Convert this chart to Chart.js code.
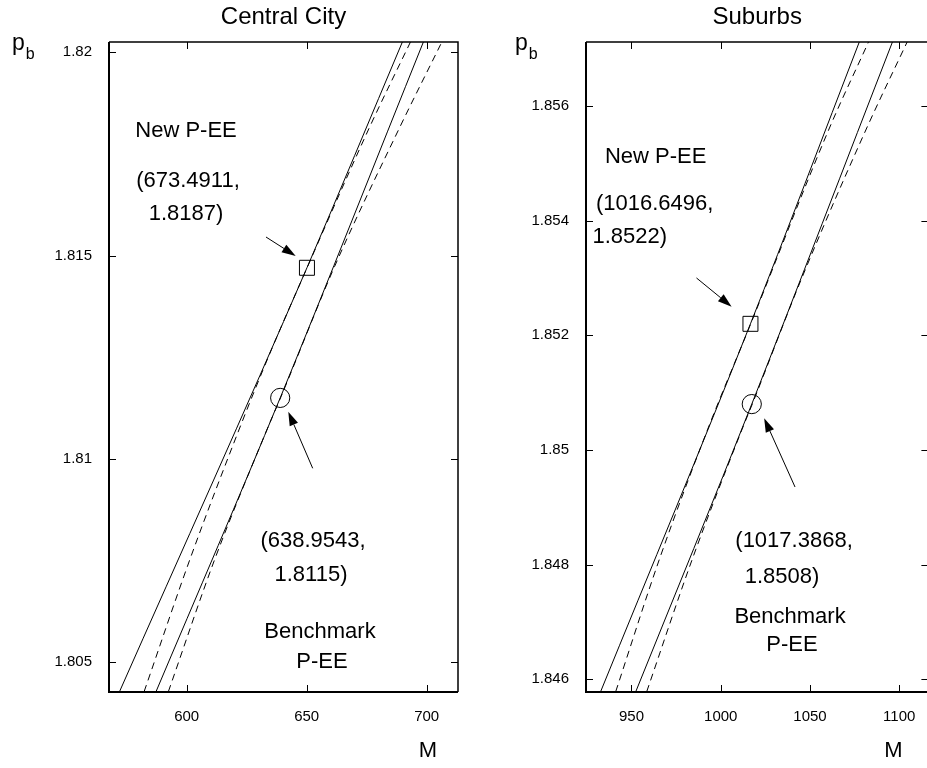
<!DOCTYPE html>
<html><head><meta charset="utf-8">
<script src="https://cdn.jsdelivr.net/npm/chart.js@4.4.0/dist/chart.umd.min.js"></script>
<style>
html,body{margin:0;padding:0;background:#fff;overflow:hidden;width:927px;height:768px;position:relative;}
canvas{position:absolute;top:0;}
#c1{left:0px} #c2{left:470px}
</style></head><body>
<canvas id="c1" width="470" height="768"></canvas>
<canvas id="c2" width="470" height="768"></canvas>
<script>
// ---------- Central City data ----------
const cityTickX = [600, 650, 700];
const cityTickY = [1.805, 1.81, 1.815, 1.82];
const cityTickYLabels = ['1.805', '1.81', '1.815', '1.82'];
const cityNewSolidM = [572.0, 650.1, 689.92];
const cityNewSolidP = [1.804275, 1.8147, 1.820261];
const cityNewDashedM = [582.25, 601.25, 621.75, 634.67, 650.35, 676.04, 693.29];
const cityNewDashedP = [1.804275, 1.807514, 1.810711, 1.812597, 1.814727, 1.818138, 1.820261];
const cityBenchSolidM = [587.21, 638.9543, 698.67];
const cityBenchSolidP = [1.804275, 1.8115, 1.820261];
const cityBenchDashedM = [592.35, 611.58, 633.38, 639.3, 661.58, 688.63, 706.38];
const cityBenchDashedP = [1.804275, 1.807514, 1.810711, 1.81153, 1.814727, 1.818138, 1.820261];
const cityNewEE = [650.1, 1.8147];
const cityBenchEE = [638.9543, 1.8115];

// ---------- Suburbs data ----------
const subTickX = [950, 1000, 1050, 1100];
const subTickY = [1.846, 1.848, 1.85, 1.852, 1.854, 1.856];
const subTickYLabels = ['1.846', '1.848', '1.85', '1.852', '1.854', '1.856'];
const subNewSolidM = [932.71, 1016.6496, 1077.70];
const subNewSolidP = [1.845784, 1.8522, 1.857122];
const subNewDashedM = [941.16, 965.50, 992.55, 1016.93, 1060.91, 1082.88];
const subNewDashedP = [1.845784, 1.848081, 1.850349, 1.85221, 1.855616, 1.857122];
const subBenchSolidM = [952.40, 1017.3868, 1096.27];
const subBenchSolidP = [1.845784, 1.8508, 1.857122];
const subBenchDashedM = [958.53, 983.90, 1011.8, 1017.7, 1044.97, 1081.80, 1104.52];
const subBenchDashedP = [1.845784, 1.848081, 1.850349, 1.850802, 1.852965, 1.855616, 1.857122];
const subNewEE = [1016.6496, 1.8522];
const subBenchEE = [1017.3868, 1.8508];

const FONT = '"Liberation Sans", Arial, Helvetica, sans-serif';

function pts(xs, ys) { return xs.map((x, i) => ({x: x, y: ys[i]})); }

function lineDs(xs, ys, dashed) {
  return {data: pts(xs, ys), showLine: true, borderColor: '#000', borderWidth: 1,
    borderDash: dashed ? [7, 5] : [], pointRadius: 0, cubicInterpolationMode: 'monotone', fill: false};
}

function decorPlugin(p) {
  return {
    id: 'decor',
    afterDraw(chart) {
      const ctx = chart.ctx, ca = chart.chartArea, xs = chart.scales.x, ys = chart.scales.y;
      ctx.save();
      ctx.strokeStyle = '#000'; ctx.fillStyle = '#000';
      ctx.lineWidth = 1;
      ctx.beginPath();
      p.tickX.forEach(v => {
        const px = Math.round(xs.getPixelForValue(v)) + 0.5;
        ctx.moveTo(px, ca.bottom); ctx.lineTo(px, ca.bottom - 7);
        ctx.moveTo(px, ca.top); ctx.lineTo(px, ca.top + 7);
      });
      p.tickY.forEach(v => {
        const py = Math.round(ys.getPixelForValue(v)) + 0.5;
        ctx.moveTo(ca.left, py); ctx.lineTo(ca.left + 7, py);
        ctx.moveTo(ca.right, py); ctx.lineTo(ca.right - 7, py);
      });
      ctx.stroke();
      ctx.lineWidth = 2;
      ctx.beginPath();
      ctx.moveTo(ca.left, ca.top); ctx.lineTo(ca.left, ca.bottom); ctx.lineTo(ca.right, ca.bottom);
      ctx.stroke();
      ctx.lineWidth = 1.5;
      ctx.beginPath();
      ctx.moveTo(ca.left, ca.top); ctx.lineTo(ca.right, ca.top); ctx.lineTo(ca.right, ca.bottom);
      ctx.stroke();
      ctx.lineWidth = 1;
      p.arrows.forEach(a => {
        const x1 = xs.getPixelForValue(a.from[0]), y1 = ys.getPixelForValue(a.from[1]);
        const x2 = xs.getPixelForValue(a.to[0]), y2 = ys.getPixelForValue(a.to[1]);
        const ang = Math.atan2(y2 - y1, x2 - x1), L = 14, W = 4.5;
        const bx = x2 - L * Math.cos(ang), by = y2 - L * Math.sin(ang);
        ctx.beginPath(); ctx.moveTo(x1, y1); ctx.lineTo(bx, by); ctx.stroke();
        ctx.beginPath();
        ctx.moveTo(x2, y2);
        ctx.lineTo(bx + W * Math.sin(ang), by - W * Math.cos(ang));
        ctx.lineTo(bx - W * Math.sin(ang), by + W * Math.cos(ang));
        ctx.closePath(); ctx.fill();
      });
      ctx.textAlign = 'center'; ctx.textBaseline = 'middle';
      ctx.font = '22px ' + FONT;
      p.notes.forEach(n => {
        ctx.fillText(n.text, xs.getPixelForValue(n.x), ys.getPixelForValue(n.y));
      });
      ctx.font = '24px ' + FONT;
      ctx.fillText(p.title, (ca.left + ca.right) / 2, 17);
      ctx.font = '22px ' + FONT;
      ctx.fillText('M', ca.right + p.mDx, 751);
      ctx.textAlign = 'left';
      ctx.font = '23px ' + FONT;
      ctx.fillText('p', p.pX, 44);
      const pw = ctx.measureText('p').width;
      ctx.font = '16px ' + FONT;
      ctx.fillText('b', p.pX + pw + 1, 55);
      ctx.restore();
    }
  };
}

function makeChart(id, p) {
  const ds = [
    lineDs(p.s1m, p.s1p, false), lineDs(p.d1m, p.d1p, true),
    lineDs(p.s2m, p.s2p, false), lineDs(p.d2m, p.d2p, true),
    {data: [{x: p.newEE[0], y: p.newEE[1]}], pointStyle: 'rect', pointRadius: 10.6,
      pointBorderColor: '#000', pointBackgroundColor: 'rgba(0,0,0,0)', pointBorderWidth: 1, showLine: false},
    {data: [{x: p.benchEE[0], y: p.benchEE[1]}], pointStyle: 'circle', pointRadius: 9.6,
      pointBorderColor: '#000', pointBackgroundColor: 'rgba(0,0,0,0)', pointBorderWidth: 1, showLine: false}
  ];
  return new Chart(document.getElementById(id), {
    type: 'scatter',
    data: {datasets: ds},
    options: {
      responsive: false, animation: false, events: [],
      layout: {padding: {left: 0, right: p.padR, top: 42, bottom: 36}},
      plugins: {legend: {display: false}, tooltip: {enabled: false}, title: {display: false}},
      scales: {
        x: {type: 'linear', min: p.xmin, max: p.xmax,
          afterBuildTicks: s => { s.ticks = p.tickX.map(v => ({value: v})); },
          afterFit: s => { s.height = 40; },
          ticks: {callback: v => String(v), color: '#000', font: {family: FONT, size: 15}, padding: 8, maxRotation: 0, autoSkip: false},
          grid: {display: false}, border: {display: false}},
        y: {type: 'linear', min: p.ymin, max: p.ymax,
          afterBuildTicks: s => { s.ticks = p.tickY.map(v => ({value: v})); },
          afterFit: s => { s.width = p.yW; },
          ticks: {callback: (v, i) => p.tickYLabels[i], color: '#000', font: {family: FONT, size: 15}, padding: 9, autoSkip: false},
          grid: {display: false}, border: {display: false}}
      }
    },
    plugins: [decorPlugin(p)]
  });
}

makeChart('c1', {
  title: 'Central City', xmin: 567.625, xmax: 713.04, ymin: 1.804267, ymax: 1.820253,
  padR: 12, yW: 109, mDx: -30, pX: 12,
  tickX: cityTickX, tickY: cityTickY, tickYLabels: cityTickYLabels,
  s1m: cityNewSolidM, s1p: cityNewSolidP, d1m: cityNewDashedM, d1p: cityNewDashedP,
  s2m: cityBenchSolidM, s2p: cityBenchSolidP, d2m: cityBenchDashedM, d2p: cityBenchDashedP,
  newEE: cityNewEE, benchEE: cityBenchEE,
  arrows: [{from: [633.04, 1.815457], to: [645.42, 1.81499]}, {from: [652.5, 1.809769], to: [642.33, 1.811161]}],
  notes: [
    {text: 'New P-EE', x: 599.71, y: 1.818064},
    {text: '(673.4911,', x: 600.54, y: 1.816835},
    {text: '1.8187)', x: 599.71, y: 1.816023},
    {text: '(638.9543,', x: 652.63, y: 1.807981},
    {text: '1.8115)', x: 651.79, y: 1.807145},
    {text: 'Benchmark', x: 655.54, y: 1.805743},
    {text: 'P-EE', x: 656.38, y: 1.805005}
  ]
});

makeChart('c2', {
  title: 'Suburbs', xmin: 924.52, xmax: 1116.34, ymin: 1.845778, ymax: 1.857116,
  padR: 10, yW: 116, mDx: -35, pX: 45,
  tickX: subTickX, tickY: subTickY, tickYLabels: subTickYLabels,
  s1m: subNewSolidM, s1p: subNewSolidP, d1m: subNewDashedM, d1p: subNewDashedP,
  s2m: subBenchSolidM, s2p: subBenchSolidP, d2m: subBenchDashedM, d2p: subBenchDashedP,
  newEE: subNewEE, benchEE: subBenchEE,
  arrows: [{from: [986.41, 1.853], to: [1006.1, 1.852499]}, {from: [1041.62, 1.849354], to: [1024.33, 1.850553]}],
  notes: [
    {text: 'New P-EE', x: 963.55, y: 1.85511},
    {text: '(1016.6496,', x: 962.99, y: 1.854291},
    {text: '1.8522)', x: 949.05, y: 1.853715},
    {text: '(1017.3868,', x: 1041.06, y: 1.848412},
    {text: '1.8508)', x: 1034.37, y: 1.847784},
    {text: 'Benchmark', x: 1038.83, y: 1.847087},
    {text: 'P-EE', x: 1039.94, y: 1.846598}
  ]
});
</script>
</body></html>
